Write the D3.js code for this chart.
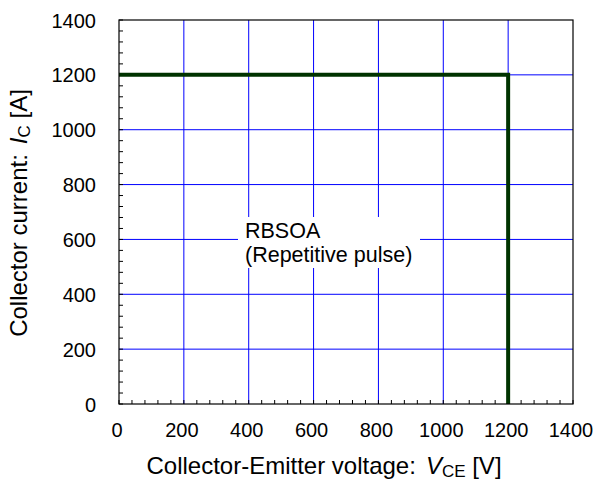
<!DOCTYPE html>
<html><head><meta charset="utf-8">
<script src="https://cdn.jsdelivr.net/npm/d3@7"></script>
<style>body{margin:0;background:#fff}svg{display:block;font-family:"Liberation Sans",Arial,sans-serif}</style>
</head><body><svg id="c" width="596" height="484"></svg>
<script>
const xTicks=[0,200,400,600,800,1000,1200,1400];
const yTicks=[0,200,400,600,800,1000,1200,1400];
const rbsoaV=[0,1200,1200];
const rbsoaI=[1200,1200,0];
const annotation=["RBSOA","(Repetitive pulse)"];

const svg=d3.select("#c");
const L=119,R=573,T=20,B=404;
const x=d3.scaleLinear().domain([0,1400]).range([L,R]);
const y=d3.scaleLinear().domain([0,1400]).range([B,T]);

// grid
svg.append("g").selectAll("line").data(xTicks.slice(1,-1)).join("line")
 .attr("x1",d=>x(d)).attr("x2",d=>x(d)).attr("y1",T).attr("y2",B).attr("stroke","#0000ff").attr("stroke-width",1);
svg.append("g").selectAll("line").data(yTicks.slice(1,-1)).join("line")
 .attr("y1",d=>y(d)).attr("y2",d=>y(d)).attr("x1",L).attr("x2",R).attr("stroke","#0000ff").attr("stroke-width",1);

// annotation background
svg.append("rect").attr("x",238).attr("y",217).attr("width",182).attr("height",51).attr("fill","#fff");
const ta=svg.append("text").attr("font-size",21.5).attr("fill","#000");
annotation.forEach((t,i)=>ta.append("tspan").attr("x",245).attr("y",238+i*24).text(t));

// minor ticks (inside)
const minor=d3.range(0,1401,40);
svg.append("g").selectAll("line").data(minor).join("line")
 .attr("x1",d=>x(d)).attr("x2",d=>x(d)).attr("y1",B).attr("y2",B-4).attr("stroke","#000");
svg.append("g").selectAll("line").data(minor).join("line")
 .attr("y1",d=>y(d)).attr("y2",d=>y(d)).attr("x1",L).attr("x2",L+4).attr("stroke","#000");

// data
svg.append("path").datum(rbsoaV.map((v,i)=>[v,rbsoaI[i]]))
 .attr("d",d3.line().x(d=>x(d[0])).y(d=>y(d[1])))
 .attr("fill","none").attr("stroke","#003300").attr("stroke-width",4).attr("stroke-linejoin","miter");

// frame
svg.append("rect").attr("x",L).attr("y",T).attr("width",R-L).attr("height",B-T).attr("fill","none").attr("stroke","#000").attr("stroke-width",1.2);

// tick labels
svg.append("g").selectAll("text").data(xTicks).join("text")
 .attr("x",d=>x(d)-2).attr("y",437).attr("text-anchor","middle").attr("font-size",20).text(d=>d);
svg.append("g").selectAll("text").data(yTicks).join("text")
 .attr("x",96).attr("y",d=>y(d)+7.5).attr("text-anchor","end").attr("font-size",20).text(d=>d);

// axis titles
const xt=svg.append("text").attr("x",324).attr("y",474).attr("text-anchor","middle").attr("font-size",24);
xt.append("tspan").text("Collector-Emitter voltage:");
xt.append("tspan").attr("dx",10).attr("font-style","italic").text("V");
xt.append("tspan").attr("font-size",17).attr("dy",3).text("CE");
xt.append("tspan").attr("dy",-3).text(" [V]");

const yt=svg.append("text").attr("transform","translate(27,213) rotate(-90)").attr("text-anchor","middle").attr("font-size",24);
yt.append("tspan").text("Collector current:");
yt.append("tspan").attr("dx",10).attr("font-style","italic").text("I");
yt.append("tspan").attr("font-size",17).attr("dy",3).text("C");
yt.append("tspan").attr("dy",-3).text(" [A]");
</script></body></html>
